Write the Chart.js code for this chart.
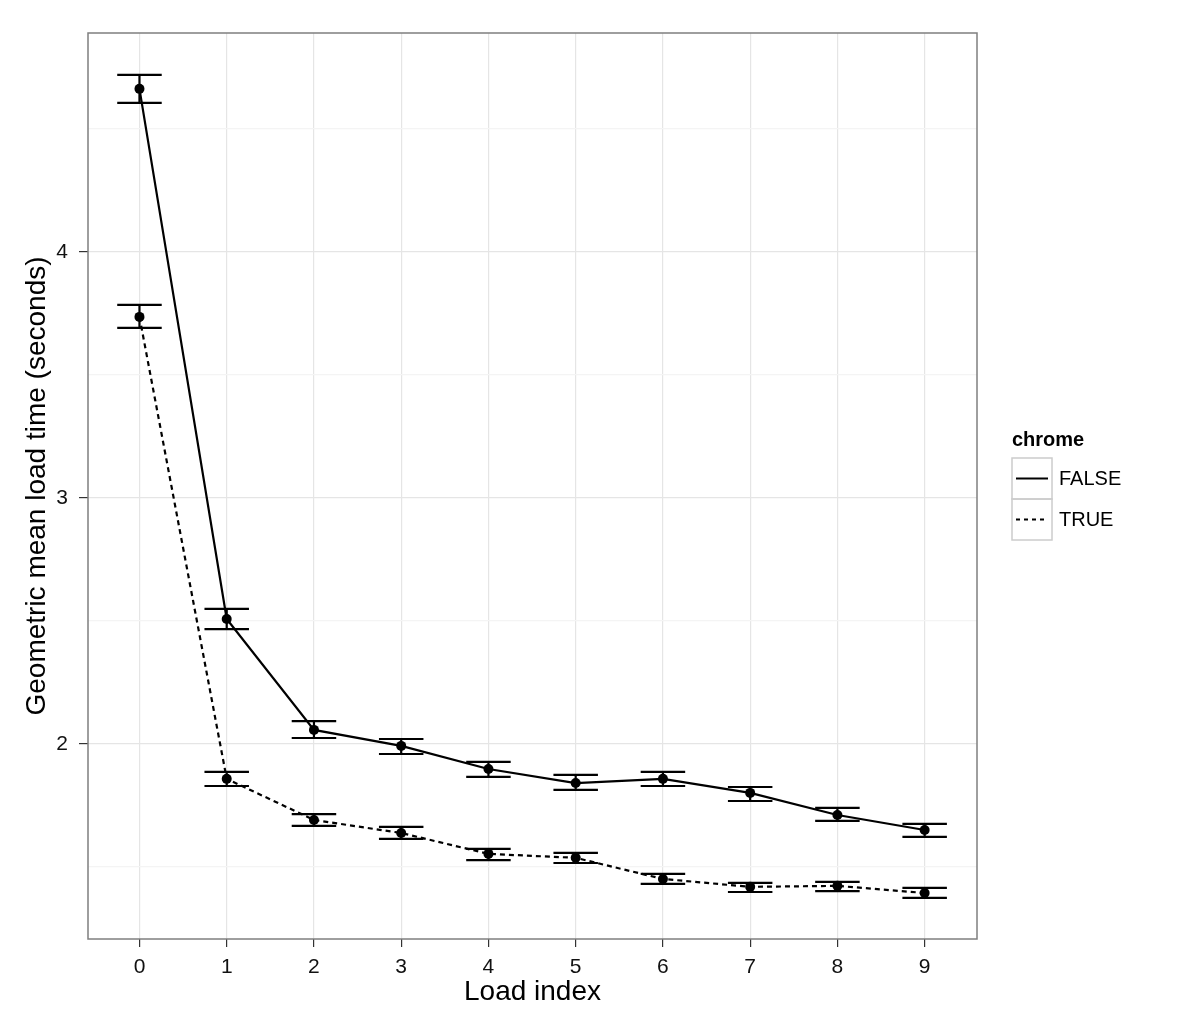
<!DOCTYPE html>
<html>
<head>
<meta charset="utf-8">
<script src="https://cdn.jsdelivr.net/npm/chart.js@4.4.0/dist/chart.umd.min.js"></script>
<style>
  body { margin: 0; background: #fff; }
  #chart { display: block; }
</style>
</head>
<body>
<canvas id="chart" width="1200" height="1029"></canvas>
<script>
// values (geometric mean + error bar ends)
const loadIndex = [0, 1, 2, 3, 4, 5, 6, 7, 8, 9];
const falseMean = [4.663, 2.508, 2.057, 1.992, 1.898, 1.841, 1.858, 1.801, 1.711, 1.650];
const falseLow  = [4.606, 2.467, 2.024, 1.959, 1.866, 1.813, 1.829, 1.768, 1.687, 1.622];
const falseHigh = [4.720, 2.549, 2.093, 2.020, 1.927, 1.874, 1.886, 1.825, 1.740, 1.675];
const trueMean  = [3.736, 1.858, 1.691, 1.638, 1.553, 1.537, 1.451, 1.419, 1.423, 1.394];
const trueLow   = [3.691, 1.829, 1.667, 1.614, 1.528, 1.516, 1.431, 1.398, 1.402, 1.374];
const trueHigh  = [3.785, 1.886, 1.715, 1.663, 1.573, 1.557, 1.472, 1.435, 1.439, 1.415];
const yMajorTicks = [2, 3, 4];
const yMinorTicks = [1.5, 2.5, 3.5, 4.5];
const legendTitle = 'chrome';
const seriesNames = ['FALSE', 'TRUE'];

const FONT = '"Liberation Sans", Arial, Helvetica, sans-serif';
const DASH = [5, 4];

const toPoints = (ys) => loadIndex.map((x, i) => ({ x: x, y: ys[i] }));

const errorBars = {
  id: 'errorBars',
  beforeDatasetsDraw(chart) {
    const { ctx, scales: { x, y } } = chart;
    const sets = [[falseLow, falseHigh], [trueLow, trueHigh]];
    ctx.save();
    ctx.strokeStyle = '#000';
    ctx.lineWidth = 2.2;
    sets.forEach(([lo, hi]) => {
      loadIndex.forEach((v, i) => {
        const xl = x.getPixelForValue(v - 0.255);
        const xr = x.getPixelForValue(v + 0.255);
        const xc = x.getPixelForValue(v);
        const yl = y.getPixelForValue(lo[i]);
        const yh = y.getPixelForValue(hi[i]);
        ctx.beginPath();
        ctx.moveTo(xl, yh); ctx.lineTo(xr, yh);
        ctx.moveTo(xl, yl); ctx.lineTo(xr, yl);
        ctx.moveTo(xc, yh); ctx.lineTo(xc, yl);
        ctx.stroke();
      });
    });
    ctx.restore();
  },
  afterDatasetsDraw(chart) {
    // panel border
    const { ctx, chartArea: a } = chart;
    ctx.save();
    ctx.strokeStyle = '#7f7f7f';
    ctx.lineWidth = 1.5;
    ctx.strokeRect(a.left, a.top, a.right - a.left, a.bottom - a.top);
    ctx.restore();
  }
};

const legendBox = {
  id: 'legendBox',
  afterDraw(chart) {
    const ctx = chart.ctx;
    const left = 1012, top = 458, w = 40, h = 41;
    ctx.save();
    ctx.fillStyle = '#000';
    ctx.textBaseline = 'middle';
    ctx.textAlign = 'left';
    ctx.font = 'bold 20px ' + FONT;
    ctx.fillText(legendTitle, left, 440);
    seriesNames.forEach((name, i) => {
      const y0 = top + i * h;
      ctx.strokeStyle = '#cccccc';
      ctx.lineWidth = 1.5;
      ctx.setLineDash([]);
      ctx.strokeRect(left, y0, w, h);
      ctx.strokeStyle = '#000';
      ctx.lineWidth = 2;
      ctx.setLineDash(i === 0 ? [] : [4, 4]);
      ctx.beginPath();
      ctx.moveTo(left + 4, y0 + h / 2);
      ctx.lineTo(left + w - 4, y0 + h / 2);
      ctx.stroke();
      ctx.setLineDash([]);
      ctx.font = '20px ' + FONT;
      ctx.fillText(name, left + w + 7, y0 + h / 2 + 1);
    });
    ctx.restore();
  }
};

new Chart(document.getElementById('chart').getContext('2d'), {
  type: 'line',
  data: {
    datasets: [
      {
        label: seriesNames[0],
        data: toPoints(falseMean),
        borderColor: '#000',
        backgroundColor: '#000',
        borderWidth: 2.2,
        pointRadius: 5,
        pointBorderWidth: 0,
        tension: 0
      },
      {
        label: seriesNames[1],
        data: toPoints(trueMean),
        borderColor: '#000',
        backgroundColor: '#000',
        borderWidth: 2.2,
        borderDash: DASH,
        pointRadius: 5,
        pointBorderWidth: 0,
        tension: 0
      }
    ]
  },
  options: {
    responsive: false,
    animation: false,
    layout: { padding: { top: 33, right: 223, left: 0, bottom: 0 } },
    plugins: {
      legend: { display: false },
      tooltip: { enabled: false }
    },
    scales: {
      x: {
        type: 'linear',
        min: -0.59,
        max: 9.6,
        afterBuildTicks: (s) => { s.ticks = loadIndex.map(v => ({ value: v })); },
        afterFit: (s) => { s.height = 90; },
        border: { display: false },
        grid: { color: '#e5e5e5', lineWidth: 1.2, tickColor: '#333', tickLength: 8 },
        ticks: { color: '#111', font: { family: FONT, size: 21 }, padding: 8, maxRotation: 0 },
        title: {
          display: true, text: 'Load index', color: '#000',
          font: { family: FONT, size: 28 }, padding: { top: 0, bottom: 20 }
        }
      },
      y: {
        type: 'linear',
        min: 1.207,
        max: 4.89,
        afterBuildTicks: (s) => {
          s.ticks = yMajorTicks.concat(yMinorTicks).sort((a, b) => a - b).map(v => ({ value: v }));
        },
        afterFit: (s) => { s.width = 88; },
        border: { display: false },
        grid: {
          color: (c) => yMajorTicks.includes(c.tick.value) ? '#e5e5e5' : '#f4f4f4',
          lineWidth: 1.2,
          tickColor: (c) => yMajorTicks.includes(c.tick.value) ? '#333' : 'rgba(0,0,0,0)',
          tickLength: 9
        },
        ticks: {
          color: '#111', font: { family: FONT, size: 21 }, padding: 11,
          callback: (v) => yMajorTicks.includes(v) ? String(v) : ''
        },
        title: {
          display: true, text: 'Geometric mean load time (seconds)', color: '#000',
          font: { family: FONT, size: 28 }, padding: { top: 20, bottom: 0 }
        }
      }
    }
  },
  plugins: [errorBars, legendBox]
});
</script>
</body>
</html>
